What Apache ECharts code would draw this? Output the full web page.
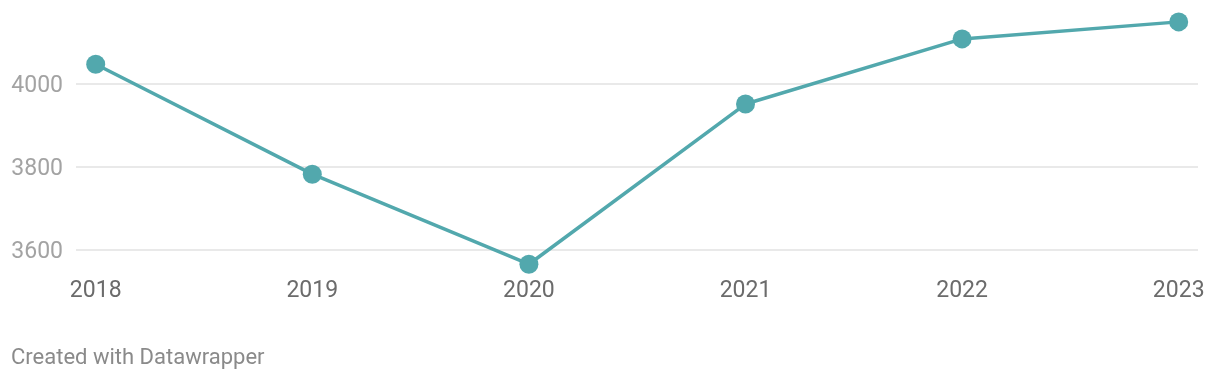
<!DOCTYPE html>
<html>
<head>
<meta charset="utf-8">
<script src="https://cdn.jsdelivr.net/npm/echarts@6/dist/echarts.min.js"></script>
<style>
html,body{margin:0;padding:0;background:#fff;}
#chart{width:1220px;height:380px;}
</style>
</head>
<body>
<div id="chart"></div>
<script>
const categories = ['2018', '2019', '2020', '2021', '2022', '2023'];
const values = [4046, 3781, 3564, 3950, 4107, 4148];
const yTicks = [3600, 3800, 4000];
const footer = 'Created with Datawrapper';

const FONT = 'Roboto';
const chart = echarts.init(document.getElementById('chart'), null, {renderer: 'canvas'});
const yMin = 3400, yMax = 4200, yStep = 200;

chart.setOption({
  animation: false,
  backgroundColor: '#ffffff',
  grid: [
    {left: 76, right: 22, top: 0.3, height: 332, containLabel: false},
    {left: 95.7, right: 41.3, top: 0.3, height: 332, containLabel: false}
  ],
  xAxis: [
    {gridIndex: 0, type: 'category', data: categories, show: false},
    {
      gridIndex: 1, type: 'category', data: categories, boundaryGap: false,
      offset: -41,
      axisLine: {show: false}, axisTick: {show: false}, splitLine: {show: false},
      axisLabel: {
        margin: 0, verticalAlign: 'middle', color: '#6b6b6b',
        fontFamily: FONT, fontSize: 23
      }
    }
  ],
  yAxis: [
    {
      gridIndex: 0, type: 'value', min: yMin, max: yMax, interval: yStep,
      axisLine: {show: false}, axisTick: {show: false},
      splitLine: {show: true, showMinLine: false, showMaxLine: false, lineStyle: {color: '#e2e2e2', width: 1.5}},
      axisLabel: {
        margin: 13, color: '#a3a3a3', fontFamily: FONT, fontSize: 23,
        verticalAlign: 'middle',
        formatter: v => yTicks.includes(v) ? '{a|' + v + '}' : '',
        rich: {a: {color: '#a3a3a3', fontFamily: FONT, fontSize: 23, padding: [5, 0, 0, 0]}}
      }
    },
    {
      gridIndex: 1, type: 'value', min: yMin, max: yMax, interval: yStep,
      show: false, splitLine: {show: false}
    }
  ],
  graphic: [{
    type: 'text', left: 11, top: 347,
    style: {text: footer, fill: '#8a8a8a', font: '22px Roboto'}
  }],
  series: [{
    type: 'line', xAxisIndex: 1, yAxisIndex: 1,
    data: values,
    symbol: 'circle', symbolSize: 19,
    lineStyle: {color: '#52a8ad', width: 3.5},
    itemStyle: {color: '#52a8ad'},
    z: 5
  }]
});
</script>
</body>
</html>
